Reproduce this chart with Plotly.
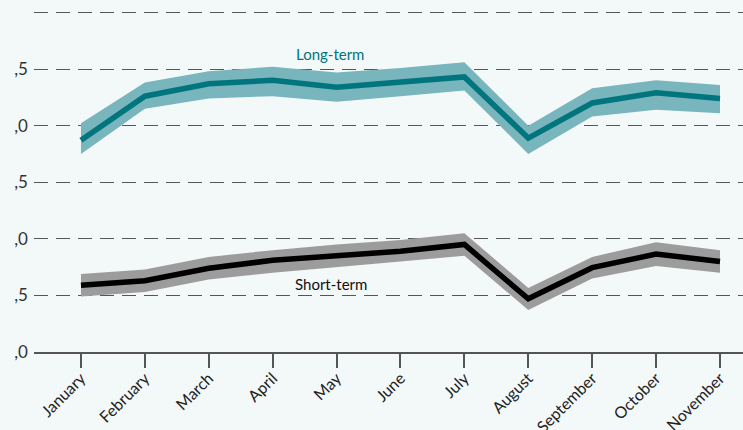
import plotly.graph_objects as go

months = ["January", "February", "March", "April", "May", "June", "July",
          "August", "September", "October", "November"]

long_term = [1.87, 2.26, 2.37, 2.40, 2.34, 2.38, 2.43, 1.89, 2.20, 2.29, 2.24]
long_upper = [2.02, 2.38, 2.48, 2.52, 2.47, 2.51, 2.56, 2.00, 2.33, 2.40, 2.36]
long_lower = [1.75, 2.15, 2.24, 2.26, 2.21, 2.26, 2.31, 1.75, 2.08, 2.14, 2.11]

short_term = [0.59, 0.63, 0.74, 0.81, 0.85, 0.89, 0.95, 0.47, 0.745, 0.865, 0.80]
short_upper = [0.69, 0.73, 0.84, 0.90, 0.95, 0.99, 1.05, 0.565, 0.84, 0.97, 0.90]
short_lower = [0.49, 0.53, 0.64, 0.70, 0.75, 0.80, 0.85, 0.37, 0.65, 0.76, 0.70]

y_tickvals = [0.0, 0.5, 1.0, 1.5, 2.0, 2.5, 3.0]
y_ticktext = [",0", ",5", ",0", ",5", ",0", ",5", ""]

x = list(range(len(months)))

BG = "#f3f8f8"
TEAL = "#00757e"
TEAL_BAND = "#78b5bd"
GREY_BAND = "#9c9c9c"
FONT = "Lato"

fig = go.Figure()


def band(upper, lower, color):
    fig.add_trace(go.Scatter(x=x + x[::-1], y=upper + lower[::-1], fill="toself",
                             fillcolor=color, line=dict(width=0), mode="lines",
                             hoverinfo="skip", showlegend=False))


band(long_upper, long_lower, TEAL_BAND)
band(short_upper, short_lower, GREY_BAND)

fig.add_trace(go.Scatter(x=x, y=long_term, mode="lines",
                         line=dict(color=TEAL, width=5.5), showlegend=False))
fig.add_trace(go.Scatter(x=x, y=short_term, mode="lines",
                         line=dict(color="#000000", width=5.5), showlegend=False))

fig.add_annotation(x=4, y=2.63, text="Long-term", showarrow=False, xshift=-7,
                   font=dict(family=FONT, size=15, color=TEAL))
fig.add_annotation(x=4, y=0.60, text="Short-term", showarrow=False, xshift=-6,
                   font=dict(family=FONT, size=15, color="#111111"))

fig.update_layout(
    width=743, height=430,
    margin=dict(l=34, r=0, t=0, b=78, autoexpand=False),
    paper_bgcolor=BG, plot_bgcolor=BG,
    font=dict(family=FONT, color="#222222"),
    xaxis=dict(range=[-0.735, 10.36], tickvals=x, ticktext=months,
               tickangle=-45, ticks="outside", ticklen=14, tickwidth=1.5,
               tickcolor="#555555", showline=True, linecolor="#555555",
               linewidth=1.5, showgrid=False, zeroline=False, automargin=False,
               ticklabelstandoff=-5,
               tickfont=dict(size=16, color="#222222")),
    yaxis=dict(range=[0, 3.11], tickvals=y_tickvals, ticktext=y_ticktext,
               showgrid=True, gridcolor="#555555", gridwidth=1.2,
               griddash="14px,8px", zeroline=False, showline=False, automargin=False,
               ticks="", ticklabelstandoff=5, tickfont=dict(size=17, color="#333333")),
)

fig.write_html("out.html", config={"displayModeBar": False},
               post_script="document.body.style.margin='0';document.body.style.background='%s';" % BG)
